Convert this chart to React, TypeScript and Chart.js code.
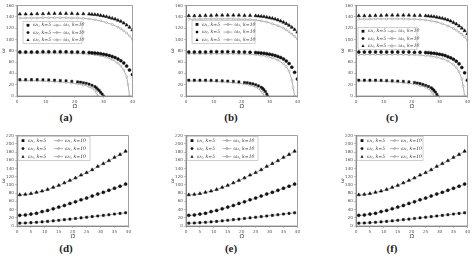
import React, { useEffect, useRef } from 'react';
import { Chart, registerables } from 'chart.js';
Chart.register(...registerables);

// ---------- data ----------
const X_TOP_5 = [1,3,5,7,9,11,13,15,17,19,21,23,25,26,27,28,29,30,31,32,33,34,35,36,37,38,39,40];
const X_TOP_10 = [1,3,5,7,9,11,13,15,17,19,21,23,25,27,29,31,33,35,36,37,38,39,40];
const X_MID_10 = [1,3,5,7,9,11,13,15,17,19,21,23,25,27,29,31,33,35,36,37,38,38.5,39];
const X_LOW5_A = [1,3,5,7,9,11,13,15,17,19,21,22,23,24,25,26,27,27.5,28,28.5,29,29.5,30];
const X_LOW5_BC = [1,3,5,7,9,11,13,15,17,19,21,22,23,24,25,26,27,27.5,28,28.5,29,29.3];
const X_LOW10 = [1,3,5,7,9,11,13,15,17,19,21,23,25,26,27,27.5,28];

const A_UP5 = [145,145,145,145.5,145.5,146,146,146,146,146,145.5,145.5,145,144.5,144,143.5,142.5,141.5,140.5,139,137.5,136,134,132,129,125.5,121.5,117];
const A_UP10 = [138,138,138,138,138.5,138.5,138.5,138.5,138.5,138,138,137.5,136.5,135,133,130,126.5,122,119,115.5,111.5,106.5,100.5];
const A_MID5 = [78,78,78,78,78.5,78.5,78.5,78.5,78.5,78,78,77.5,77,76.5,76,75.5,75,74,73,71.5,70,68,65.5,62.5,58.5,53,46,38];
const A_MID10 = [76,76,76,76,76,76,76,76,76,75.5,75.5,75,74,73,71,68.5,64.5,58,53,46,34,20,0];
const A_LOW5 = [29,29,29,29,28.8,28.5,28,27.5,27,26,25,24.5,23.5,22.5,21,19,16.5,14.5,12,9.5,6.5,3.5,0];
const A_LOW10 = [27,27,27,26.8,26.5,26,25.5,25,24,23,21.5,19.5,16.5,14,10,6.5,0];

const B_UP5 = [142,142,142,142.5,142.5,143,143,143,143,143,142.5,142.5,142,141.5,141,140.5,139.5,138.5,137.5,136,134.5,132.5,130.5,128,125,121.5,117.5,113];
const B_UP10 = [136,136,136,136.5,136.5,136.5,136.5,136.5,136.5,136,136,135.5,134.5,133,131,128,124.5,120,117,113.5,109.5,105.5,101];
const B_MID5 = [78,78,78,78,78.5,78.5,78.5,78.5,78.5,78,78,77.5,77,76.5,76,75.5,75,74,73,71.5,70,68,65.5,62,57.5,51,42,30];
const B_MID10 = [75,75,75,75,75,75,75,75,75,74.5,74.5,74,73,72,70,67.5,63.5,57,52,44,28,15,0];
const B_LOW5 = [28,28,28,28,27.8,27.5,27,26.5,26,25,24,23.5,22.5,21.5,20,18,15.5,13.5,11,8,3.5,0];
const B_LOW10 = [26.5,26.5,26.5,26.3,26,25.5,25,24.5,23.5,22.5,21,19,16,13.5,9.5,6,0];

const C_UP5 = [142,142,142,142.5,142.5,143,143,143,143,143,142.5,142.5,142,141.5,141,140.5,139.5,138.5,137.5,136,134.5,132.5,130,127.5,124,120,115.5,110];
const C_UP10 = [136,136,136,136.5,136.5,136.5,136.5,136.5,136.5,136,136,135.5,134.5,133,131,128,124,119.5,116.5,113,109,104.5,99];
const C_MID5 = [78,78,78,78,78,78,78,78,78,78,77.5,77.5,77,76.5,76,75.5,75,74,73,71.5,69.5,67.5,65,61.5,57,50.5,41,28];
const C_MID10 = [73.5,73.5,73.5,73.5,73.5,73.5,73.5,73.5,73.5,73,73,72.5,71.5,70.5,68.5,66,62,55.5,50.5,43,30,17,0];
const C_LOW5 = [28,28,28,28,27.8,27.5,27,26.5,26,25,24,23,22,20.5,19,17,14.5,12.5,10,7,3,0];
const C_LOW10 = [26.5,26.5,26.5,26.3,26,25.5,25,24.5,23.5,22.5,21,18.5,15.5,13,9,5.5,0];

const X_BOT = [1,3,5,7,9,11,13,15,17,19,21,23,25,27,29,31,33,35,37,39];
const BOT_W3_5 = [76,77,79,82,85,89,94,99,105,111,117,124,130,137,145,152,159,167,174,182];
const BOT_W3_10 = [75.5,76.5,78.5,81.5,84.5,88.5,93.5,98.5,104.5,110.5,116.5,123.5,129.5,136.5,144.5,151.5,158.5,166.5,173.5,181.5];
const BOT_W2_5 = [26,27,29,31,35,38,42,46,50,55,59,64,68,73,78,82,87,92,97,102];
const BOT_W2_10 = [25.5,26.5,28.5,30.5,34.5,37.5,41.5,45.5,49.5,54.5,58.5,63.5,67.5,72.5,77.5,81.5,86.5,91.5,96.5,101.5];
const BOT_W1_5 = [7,7.4,8.1,9,10.1,11.3,12.6,14,15.4,16.8,18.4,19.9,21.3,22.9,24.4,26,27.5,29.1,30.7,32.2];
const BOT_W1_10 = [6.8,7.2,7.9,8.8,9.9,11.1,12.4,13.8,15.2,16.6,18.2,19.7,21.1,22.7,24.2,25.8,27.3,28.9,30.5,32];

const LEGEND_K5 = ['ω₁, k=5', 'ω₂, k=5', 'ω₃, k=5'];
const LEGEND_K10 = ['ω₁, k=10', 'ω₂, k=10', 'ω₃, k=10'];
const CAPTIONS = ['(a)', '(b)', '(c)', '(d)', '(e)', '(f)'];
const TOP_X_STEP = 10;
const BOT_X_STEP = 5;
const TOP_Y_MAX = 160;
const BOT_Y_MAX = 220;

const pts = (xs: number[], ys: number[]) => xs.map((x, i) => ({ x, y: ys[i] }));

type Series = { x5: number[]; y5: number[]; x10: number[]; y10: number[] }[];

const MARKERS = ['rect', 'circle', 'triangle'];

type Spec = {
  left: number; top: number; right: number; bottom: number;
  xStep: number; yMax: number;
  series: Series;
  legend: { x: number; y: number; w: number; h: number };
  caption: string; capX: number; capY: number;
};

const SPECS: Spec[] = [
  { left: 17, top: 5, right: 133, bottom: 96, xStep: TOP_X_STEP, yMax: TOP_Y_MAX,
    series: [
      { x5: X_LOW5_A, y5: A_LOW5, x10: X_LOW10, y10: A_LOW10 },
      { x5: X_TOP_5, y5: A_MID5, x10: X_MID_10, y10: A_MID10 },
      { x5: X_TOP_5, y5: A_UP5, x10: X_TOP_10, y10: A_UP10 },
    ],
    legend: { x: 6, y: 16, w: 59, h: 22 }, caption: CAPTIONS[0], capX: 66, capY: 117 },
  { left: 186, top: 5, right: 298, bottom: 96, xStep: TOP_X_STEP, yMax: TOP_Y_MAX,
    series: [
      { x5: X_LOW5_BC, y5: B_LOW5, x10: X_LOW10, y10: B_LOW10 },
      { x5: X_TOP_5, y5: B_MID5, x10: X_MID_10, y10: B_MID10 },
      { x5: X_TOP_5, y5: B_UP5, x10: X_TOP_10, y10: B_UP10 },
    ],
    legend: { x: 6, y: 15, w: 63, h: 23 }, caption: CAPTIONS[1], capX: 231, capY: 117 },
  { left: 356, top: 5, right: 468, bottom: 96, xStep: TOP_X_STEP, yMax: TOP_Y_MAX,
    series: [
      { x5: X_LOW5_BC, y5: C_LOW5, x10: X_LOW10, y10: C_LOW10 },
      { x5: X_TOP_5, y5: C_MID5, x10: X_MID_10, y10: C_MID10 },
      { x5: X_TOP_5, y5: C_UP5, x10: X_TOP_10, y10: C_UP10 },
    ],
    legend: { x: 2, y: 22, w: 59, h: 22 }, caption: CAPTIONS[2], capX: 392, capY: 117 },
  { left: 17, top: 135, right: 129, bottom: 226, xStep: BOT_X_STEP, yMax: BOT_Y_MAX,
    series: [
      { x5: X_BOT, y5: BOT_W1_5, x10: X_BOT, y10: BOT_W1_10 },
      { x5: X_BOT, y5: BOT_W2_5, x10: X_BOT, y10: BOT_W2_10 },
      { x5: X_BOT, y5: BOT_W3_5, x10: X_BOT, y10: BOT_W3_10 },
    ],
    legend: { x: 1, y: 1, w: 72, h: 24 }, caption: CAPTIONS[3], capX: 66, capY: 248 },
  { left: 186, top: 135, right: 298, bottom: 226, xStep: BOT_X_STEP, yMax: BOT_Y_MAX,
    series: [
      { x5: X_BOT, y5: BOT_W1_5, x10: X_BOT, y10: BOT_W1_10 },
      { x5: X_BOT, y5: BOT_W2_5, x10: X_BOT, y10: BOT_W2_10 },
      { x5: X_BOT, y5: BOT_W3_5, x10: X_BOT, y10: BOT_W3_10 },
    ],
    legend: { x: 1, y: 1, w: 71, h: 24 }, caption: CAPTIONS[4], capX: 231, capY: 248 },
  { left: 356, top: 135, right: 468, bottom: 226, xStep: BOT_X_STEP, yMax: BOT_Y_MAX,
    series: [
      { x5: X_BOT, y5: BOT_W1_5, x10: X_BOT, y10: BOT_W1_10 },
      { x5: X_BOT, y5: BOT_W2_5, x10: X_BOT, y10: BOT_W2_10 },
      { x5: X_BOT, y5: BOT_W3_5, x10: X_BOT, y10: BOT_W3_10 },
    ],
    legend: { x: 1, y: 1, w: 66, h: 24 }, caption: CAPTIONS[5], capX: 392, capY: 248 },
];

const Y_AXIS_W = 17;
const X_AXIS_H = 14;
const PAD_TOP = 4;
const PAD_RIGHT = 4;
const GRAY = '#9a9a9a';

function drawMarker(ctx: CanvasRenderingContext2D, style: string, x: number, y: number, r: number) {
  ctx.beginPath();
  if (style === 'rect') {
    ctx.rect(x - r, y - r, 2 * r, 2 * r);
  } else if (style === 'circle') {
    ctx.arc(x, y, r, 0, Math.PI * 2);
  } else {
    ctx.moveTo(x, y - r * 1.2);
    ctx.lineTo(x + r * 1.1, y + r * 0.8);
    ctx.lineTo(x - r * 1.1, y + r * 0.8);
    ctx.closePath();
  }
  ctx.fill();
}

const decoPlugin = {
  id: 'deco',
  afterDraw(chart: any, _args: any, opts: any) {
    const { ctx, chartArea: ca } = chart;
    ctx.save();
    ctx.strokeStyle = '#8a8a8a';
    ctx.lineWidth = 0.8;
    ctx.strokeRect(ca.left, ca.top, ca.right - ca.left, ca.bottom - ca.top);
    const L = opts.box;
    const lx = ca.left + L.x, ly = ca.top + L.y;
    ctx.fillStyle = '#ffffff';
    ctx.fillRect(lx, ly, L.w, L.h);
    ctx.strokeStyle = '#b0b0b0';
    ctx.lineWidth = 0.6;
    ctx.strokeRect(lx, ly, L.w, L.h);
    ctx.font = 'italic 4.6px "DejaVu Serif"';
    ctx.textBaseline = 'middle';
    ctx.textAlign = 'left';
    for (let i = 0; i < 3; i++) {
      const cy = ly + (L.h * (i + 0.5)) / 3;
      ctx.fillStyle = '#111';
      drawMarker(ctx, MARKERS[i], lx + 5, cy, 1.4);
      ctx.fillStyle = '#333';
      ctx.fillText(LEGEND_K5[i], lx + 10, cy);
      const x2 = lx + L.w * 0.5;
      ctx.strokeStyle = GRAY;
      ctx.lineWidth = 0.7;
      ctx.beginPath();
      ctx.moveTo(x2, cy);
      ctx.lineTo(x2 + 9, cy);
      ctx.stroke();
      ctx.beginPath();
      ctx.arc(x2 + 4.5, cy, 1.1, 0, Math.PI * 2);
      ctx.stroke();
      ctx.fillStyle = '#333';
      ctx.fillText(LEGEND_K10[i], x2 + 11, cy);
    }
    ctx.restore();
  },
};

function Panel({ spec }: { spec: Spec }) {
  const ref = useRef<HTMLCanvasElement | null>(null);
  const w = spec.right - spec.left + Y_AXIS_W + PAD_RIGHT;
  const h = spec.bottom - spec.top + PAD_TOP + X_AXIS_H;
  useEffect(() => {
    const datasets: any[] = [];
    spec.series.forEach((s, i) => {
      datasets.push({
        label: LEGEND_K5[i],
        data: pts(s.x5, s.y5),
        showLine: false,
        pointStyle: MARKERS[i],
        pointRadius: i === 2 ? 1.9 : 1.5,
        pointBackgroundColor: '#111',
        pointBorderColor: '#111',
        pointBorderWidth: 0.5,
        order: 0,
      });
      datasets.push({
        label: LEGEND_K10[i],
        data: pts(s.x10, s.y10),
        showLine: true,
        borderColor: GRAY,
        borderWidth: 0.8,
        pointStyle: 'circle',
        pointRadius: 1,
        pointBackgroundColor: '#fff',
        pointBorderColor: GRAY,
        pointBorderWidth: 0.6,
        tension: 0,
        order: 1,
      });
    });
    const tickFont = { size: 4.2, family: '"DejaVu Sans"' };
    const chart = new Chart(ref.current as HTMLCanvasElement, {
      type: 'scatter',
      data: { datasets },
      plugins: [decoPlugin as any],
      options: {
        animation: false,
        responsive: false,
        devicePixelRatio: 1,
        layout: { padding: { top: PAD_TOP, right: PAD_RIGHT, left: 0, bottom: 0 } },
        plugins: {
          legend: { display: false },
          tooltip: { enabled: false },
          deco: { box: spec.legend },
        } as any,
        scales: {
          x: {
            type: 'linear',
            min: 0,
            max: 40,
            ticks: { stepSize: spec.xStep, font: tickFont, color: '#555', padding: 1, maxRotation: 0, autoSkip: false },
            grid: { drawOnChartArea: false, tickLength: 2, color: '#888', lineWidth: 0.5 },
            border: { color: '#8a8a8a' },
            title: { display: true, text: 'Ω̄', font: { size: 5.5, family: '"DejaVu Serif"' }, color: '#333', padding: 0 },
            afterFit: (s: any) => { s.height = X_AXIS_H; },
          },
          y: {
            type: 'linear',
            min: 0,
            max: spec.yMax,
            ticks: { stepSize: 20, font: tickFont, color: '#555', padding: 1, autoSkip: false },
            grid: { drawOnChartArea: false, tickLength: 2, color: '#888', lineWidth: 0.5 },
            border: { color: '#8a8a8a' },
            title: { display: true, text: 'ω', font: { size: 5.5, family: '"DejaVu Serif"', style: 'italic' }, color: '#333', padding: 0 },
            afterFit: (s: any) => { s.width = Y_AXIS_W; },
          },
        },
      } as any,
    });
    return () => chart.destroy();
  }, []);
  return (
    <canvas
      ref={ref}
      width={w}
      height={h}
      style={{ position: 'absolute', left: spec.left - Y_AXIS_W, top: spec.top - PAD_TOP, width: w, height: h }}
    />
  );
}

export default function App() {
  return (
    <div style={{ position: 'absolute', left: 0, top: 0, width: 474, height: 260, background: '#fff', overflow: 'hidden' }}>
      {SPECS.map((s, i) => (
        <React.Fragment key={i}>
          <Panel spec={s} />
          <div
            style={{
              position: 'absolute',
              left: s.capX - 20,
              top: s.capY - 7,
              width: 40,
              textAlign: 'center',
              fontFamily: '"Liberation Serif", "DejaVu Serif", serif',
              fontWeight: 'bold',
              fontSize: 11,
              lineHeight: '14px',
              color: '#222',
            }}
          >
            {s.caption}
          </div>
        </React.Fragment>
      ))}
    </div>
  );
}
